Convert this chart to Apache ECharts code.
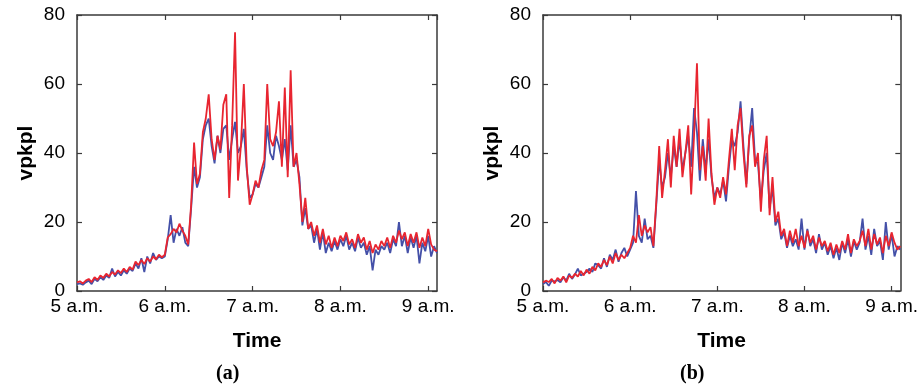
<!DOCTYPE html>
<html>
<head>
<meta charset="utf-8">
<script src="https://cdn.jsdelivr.net/npm/echarts@6/dist/echarts.min.js"></script>
<style>
  html, body { margin: 0; padding: 0; background: #fff; }
  #main { width: 921px; height: 385px; }
</style>
</head>
<body>
<div id="main"></div>
<script>
// minutes after 5 a.m., one sample every 2 minutes
const minutes = [];
for (let t = 0; t <= 246; t += 2) minutes.push(t);

const hourTicks = [0, 60, 120, 180, 240];
const hourLabels = ['5 a.m.', '6 a.m.', '7 a.m.', '8 a.m.', '9 a.m.'];
const yTicks = [0, 20, 40, 60, 80];

// panel (a)
const redA = [
  2.5, 2.8, 2.2, 3.0, 3.5, 2.6, 4.0, 3.2, 4.5, 3.8,
  5.0, 4.2, 5.5, 4.8, 6.0, 5.2, 6.5, 5.5, 7.0, 6.2,
  8.5, 7.5, 9.0, 7.8, 9.5, 8.5, 10.0, 9.2, 10.5, 9.8,
  10.5, 15.5, 16.5, 18.0, 17.0, 19.5, 17.5, 16.0, 13.5, 25.0,
  43.0, 31.0, 34.0, 46.0, 50.0, 57.0, 44.0, 38.0, 45.0, 41.0,
  54.0, 57.0, 27.0, 48.0, 75.0, 32.0, 42.0, 60.0, 36.0, 25.0,
  28.0, 32.0, 30.0, 35.0, 38.0, 60.0, 44.0, 42.0, 46.0, 55.0,
  36.0, 59.0, 33.0, 64.0, 36.0, 40.0, 31.0, 20.0, 27.0, 18.0,
  20.0, 16.0, 19.0, 14.0, 18.0, 13.5, 16.0, 12.5, 15.5, 13.0,
  16.0, 14.5, 17.0, 13.5, 15.0, 12.5, 16.5, 14.0, 15.5, 12.0,
  14.5, 11.0, 13.5, 12.0, 14.5, 13.0, 15.5, 12.5, 16.0, 14.0,
  17.5, 15.0, 17.0, 13.0, 16.5, 14.0, 17.0, 12.5, 15.5, 13.0,
  18.0, 13.5, 12.0, 11.5
];
const blueA = [
  2.0, 2.2, 1.8, 2.5, 3.0, 2.0, 3.5, 2.8, 4.0, 3.2,
  4.5, 3.8, 6.5, 4.2, 5.5, 4.5, 6.0, 5.0, 6.5, 5.8,
  8.0, 6.5, 9.5, 5.5, 10.0, 8.0, 11.0, 9.0, 10.0, 9.5,
  10.0, 15.0, 22.0, 14.0, 18.0, 16.0, 18.5, 14.0, 13.0, 24.0,
  36.0, 30.0, 33.0, 44.0, 48.0, 50.0, 42.0, 37.0, 45.0, 40.0,
  47.0, 48.0, 38.0, 44.0, 49.0, 40.0, 42.0, 47.0, 35.0, 27.0,
  28.0, 31.0, 30.0, 33.0, 36.0, 48.0, 40.0, 38.0, 45.0, 42.0,
  38.0, 44.0, 35.0, 48.0, 36.0, 38.0, 33.0, 19.0, 24.0, 18.0,
  19.0, 14.0, 18.0, 12.0, 17.0, 11.0, 14.0, 11.5, 14.5, 12.0,
  15.0, 13.0, 16.0, 12.0, 14.0, 11.5, 15.5, 12.5, 14.0, 10.5,
  13.0, 6.0, 12.0, 10.5, 13.0, 12.0, 14.0, 11.0, 15.0, 13.0,
  20.0, 13.0, 16.0, 11.0, 15.5, 12.5, 16.0, 8.0, 14.0, 11.5,
  16.0, 10.0, 13.0, 11.0
];

// panel (b)
const redB = [
  2.5, 3.0, 2.6, 3.5, 2.2, 3.8, 3.0, 4.2, 2.5, 4.5,
  3.8, 5.0, 4.2, 5.8, 4.5, 6.2, 5.0, 7.0, 6.0, 8.0,
  7.0, 9.0, 7.5, 10.0, 8.0, 11.0, 9.0, 10.5, 9.5, 11.0,
  12.5, 16.0, 14.0, 22.0, 16.0, 19.0, 17.0, 18.5, 13.0, 26.0,
  42.0, 27.0, 35.0, 44.0, 30.0, 45.0, 36.0, 47.0, 33.0, 40.0,
  48.0, 28.0, 45.0, 66.0, 35.0, 42.0, 32.0, 50.0, 34.0, 25.0,
  30.0, 27.0, 33.0, 28.0, 38.0, 47.0, 35.0, 48.0, 53.0, 40.0,
  30.0, 45.0, 48.0, 36.0, 40.0, 23.0, 38.0, 45.0, 22.0, 33.0,
  20.0, 23.0, 16.0, 18.0, 13.0, 17.5, 14.0, 18.0, 13.0, 16.0,
  12.5, 17.5, 14.0, 16.0, 12.0, 15.5, 13.0, 14.5, 11.5, 14.0,
  10.5, 13.5, 11.0, 14.5, 12.0, 16.5, 11.0, 15.0, 13.0, 14.5,
  17.5, 13.0, 18.0, 12.0, 16.5, 13.5, 15.5, 11.0, 16.0, 13.0,
  17.0, 14.0, 12.0, 13.0
];
const blueB = [
  2.0, 2.6, 1.5, 3.0, 2.8, 3.2, 2.5, 4.0, 3.0, 5.0,
  3.5, 4.8, 6.5, 4.5, 5.0, 5.5, 6.5, 5.5, 8.0, 7.5,
  6.5, 9.5, 7.0, 10.5, 9.0, 12.0, 8.5, 11.0, 12.5, 10.0,
  12.0, 14.0, 29.0, 16.0, 14.0, 21.0, 15.0, 16.0, 12.5, 25.0,
  38.0, 30.0, 33.0, 40.0, 33.0, 42.0, 36.0, 44.0, 35.0, 40.0,
  45.0, 36.0, 53.0, 46.0, 32.0, 44.0, 35.0, 44.0, 33.0, 27.0,
  30.0, 28.0, 32.0, 26.0, 36.0, 44.0, 42.0, 46.0, 55.0, 42.0,
  31.0, 44.0, 53.0, 38.0, 37.0, 26.0, 35.0, 40.0, 24.0, 30.0,
  19.0, 21.0, 15.0, 17.0, 12.5, 16.0, 13.0, 15.0, 12.0, 21.0,
  12.0, 18.0, 13.0, 15.0, 11.0, 16.5, 12.0, 14.0, 10.5, 13.0,
  9.5, 12.5, 9.0, 14.0, 11.0, 15.0, 10.0, 14.5, 12.0, 14.0,
  21.0, 12.0, 16.0, 10.5, 18.0, 13.0, 14.5, 9.0, 20.0, 12.0,
  16.5, 10.0, 13.0, 12.0
];

const RED = '#e82530';
const BLUE = '#4450a8';
const FRAME = '#3a3a3a';
const FONT = '"Liberation Sans", Arial, sans-serif';

const pair = ys => minutes.map((t, i) => [t, ys[i]]);

const hourLabel = v => {
  const k = hourTicks.indexOf(v);
  return k >= 0 ? hourLabels[k] : '';
};

function xAxisFor(gridIndex, top) {
  return {
    type: 'value', gridIndex, position: top ? 'top' : 'bottom',
    min: 0, max: 246, interval: 60,
    name: top ? '' : 'Time', nameLocation: 'middle', nameGap: 40,
    nameTextStyle: { fontFamily: FONT, fontSize: 21, fontWeight: 'bold', color: '#000' },
    axisLine: { show: true, onZero: false, lineStyle: { color: FRAME, width: 1.5 } },
    axisTick: { show: true, inside: true, length: 5, lineStyle: { color: FRAME, width: 1.2 } },
    axisLabel: {
      show: !top, showMaxLabel: false, margin: 6,
      fontFamily: FONT, fontSize: 19, color: '#000', formatter: hourLabel
    },
    splitLine: { show: false }
  };
}

function yAxisFor(gridIndex, right) {
  return {
    type: 'value', gridIndex, position: right ? 'right' : 'left',
    min: 0, max: 80, interval: 20,
    name: right ? '' : 'vpkpl', nameLocation: 'middle', nameGap: 40,
    nameTextStyle: { fontFamily: FONT, fontSize: 21, fontWeight: 'bold', color: '#000' },
    axisLine: { show: true, onZero: false, lineStyle: { color: FRAME, width: 1.5 } },
    axisTick: { show: true, inside: true, length: 5, lineStyle: { color: FRAME, width: 1.2 } },
    axisLabel: {
      show: !right, margin: 12,
      fontFamily: FONT, fontSize: 19, color: '#000',
      formatter: v => (yTicks.indexOf(v) >= 0 ? String(v) : '')
    },
    splitLine: { show: false }
  };
}

function lineSeries(xi, yi, ys, color, z) {
  return {
    type: 'line', xAxisIndex: xi, yAxisIndex: yi, data: pair(ys),
    showSymbol: false, symbol: 'none', z,
    lineStyle: { color, width: 1.8 }, animation: false
  };
}

const chart = echarts.init(document.getElementById('main'), null, { renderer: 'canvas' });
chart.setOption({
  backgroundColor: '#fff',
  animation: false,
  grid: [
    { left: 77, top: 15, width: 360, height: 276 },
    { left: 543, top: 15, width: 362, height: 276 }
  ],
  xAxis: [xAxisFor(0, false), xAxisFor(0, true), xAxisFor(1, false), xAxisFor(1, true)],
  yAxis: [yAxisFor(0, false), yAxisFor(0, true), yAxisFor(1, false), yAxisFor(1, true)],
  series: [
    lineSeries(0, 0, blueA, BLUE, 2),
    lineSeries(0, 0, redA, RED, 3),
    lineSeries(2, 2, blueB, BLUE, 2),
    lineSeries(2, 2, redB, RED, 3)
  ],
  graphic: [
    { type: 'text', left: 216, top: 364, style: { text: '(a)', font: 'bold 20px "Liberation Serif", "Times New Roman", serif', fill: '#000' } },
    { type: 'text', left: 680, top: 364, style: { text: '(b)', font: 'bold 20px "Liberation Serif", "Times New Roman", serif', fill: '#000' } }
  ]
});
</script>
</body>
</html>
